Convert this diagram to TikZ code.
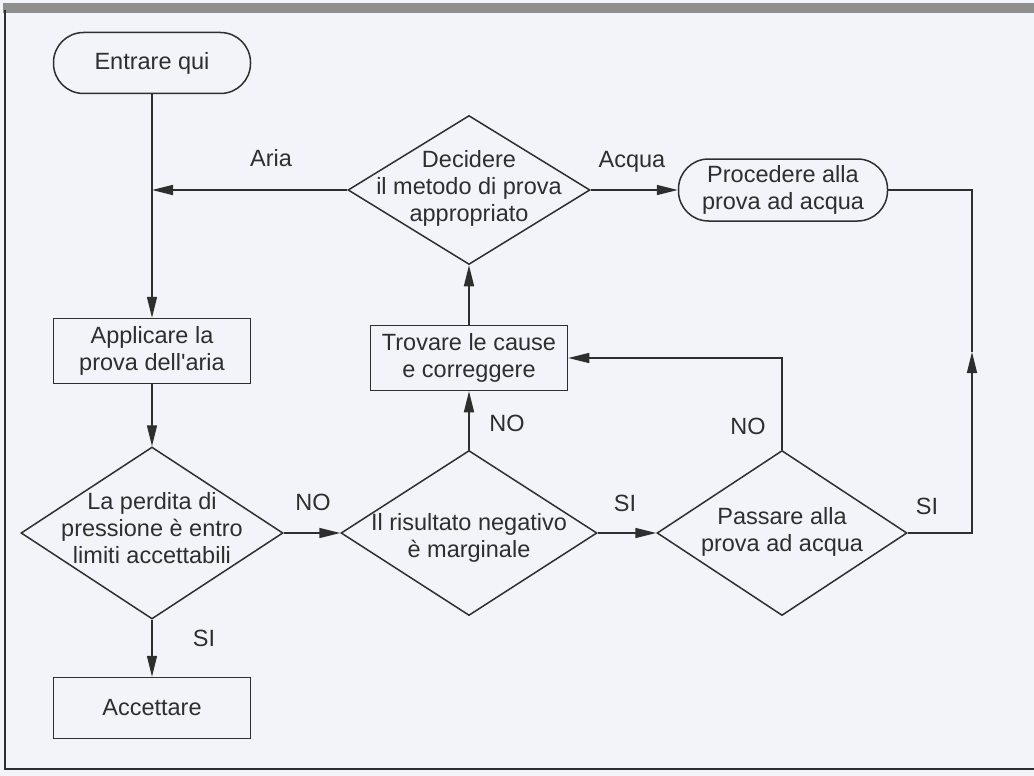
\documentclass[tikz,border=0pt]{standalone}
\usepackage{fontspec}
\setmainfont{Liberation Sans}
\usetikzlibrary{shapes.geometric,arrows.meta}
\definecolor{bg}{HTML}{F3F4F9}
\definecolor{ink}{HTML}{2E2E2E}
\definecolor{band}{HTML}{8E8E8E}
\begin{document}
\begin{tikzpicture}[x=1pt,y=-1pt,
  line width=1.5pt, draw=ink,
  every node/.style={text=ink, font=\fontsize{23.5}{27}\selectfont, align=center},
  arr/.style={-{Triangle[length=21pt,width=10pt]}},
  box/.style={draw, rectangle, minimum width=197pt, inner sep=0pt},
  term/.style={draw, rectangle, rounded corners=30pt, inner sep=0pt},
  dia/.style={draw, diamond, inner sep=0pt},
  lbl/.style={inner sep=0pt}
]
\fill[bg] (0,0) rectangle (1034,776);
\useasboundingbox (0,0) rectangle (1034,776);
\fill[band] (3,3) rectangle (1034,13);
\draw[line width=2pt] (5,10) -- (5,769) -- (1034,769);

% nodes
\node[term, minimum width=197pt, minimum height=61pt] (entr) at (152,63) {Entrare qui};
\node[dia, minimum width=242pt, minimum height=149pt] (dec) at (469,190) {};
\node at (469,188) {Decidere\\il metodo di prova\\appropriato};
\node[term, minimum width=209pt, minimum height=62pt] (proc) at (783,190) {Procedere alla\\prova ad acqua};
\node[box, minimum height=65pt] (appl) at (152,351) {Applicare la\\prova dell\textquotesingle aria};
\node[box, minimum height=65pt] (trov) at (469,358) {Trovare le cause\\e correggere};
\node[dia, minimum width=262pt, minimum height=172pt] (perd) at (152,533) {};
\node at (152,528) {La perdita di\\pressione è entro\\limiti accettabili};
\node[dia, minimum width=256pt, minimum height=165pt] (ris) at (469,533) {};
\node at (469,538) {Il risultato negativo\\è marginale};
\node[dia, minimum width=250pt, minimum height=165pt] (pass) at (782,533) {};
\node at (782,532) {Passare alla\\prova ad acqua};
\node[box, minimum height=61pt] (acc) at (152,708) {Accettare};
\coordinate (rx) at (972,352);

% connectors
\draw[arr] (entr.south) -- (appl.north);
\draw[arr] (dec.west) -- (dec.west -| entr.south);
\draw[arr] (dec.east) -- (proc.west);
\draw[arr] (appl.south) -- (perd.north);
\draw[arr] (perd.south) -- (acc.north);
\draw[arr] (perd.east) -- (ris.west);
\draw[arr] (ris.north) -- (trov.south);
\draw[arr] (trov.north) -- (dec.south);
\draw[arr] (ris.east) -- (pass.west);
\draw[arr] (pass.north) |- (trov.east);
\draw[arr] (pass.east) -| (rx);
\draw (rx) |- (proc.east);

% labels
\node[lbl] (la) at (271,158) {Aria};
\node[lbl] (lb) at (632,162) {Acqua};
\node[lbl] (lc) at (313,502) {NO};
\node[lbl] (ld) at (204,638) {SI};
\node[lbl] (le) at (507,423) {NO};
\node[lbl] (lf) at (625,503) {SI};
\node[lbl] (lg) at (748,426) {NO};
\node[lbl] (lh) at (927,506) {SI};
\end{tikzpicture}
\end{document}
